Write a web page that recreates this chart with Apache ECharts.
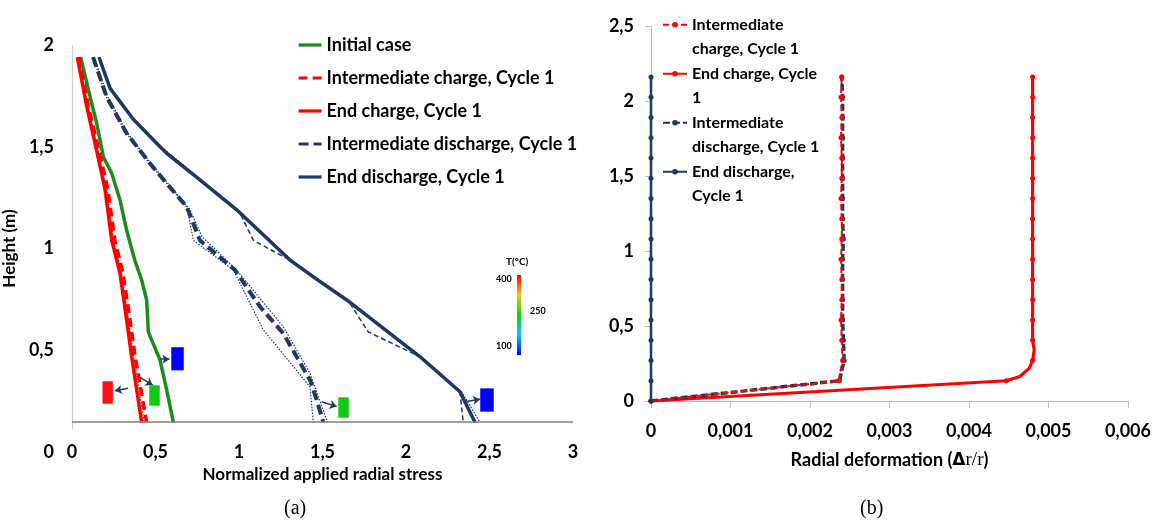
<!DOCTYPE html>
<html><head><meta charset="utf-8">
<script src="https://cdn.jsdelivr.net/npm/echarts@6/dist/echarts.min.js"></script>
<style>
html,body{margin:0;padding:0;background:#fff;}
#wrap{position:relative;width:1152px;height:523px;overflow:hidden;}
#a{position:absolute;left:0;top:0;width:600px;height:523px;}
#b{position:absolute;left:600px;top:0;width:552px;height:523px;}
</style></head><body>
<div id="wrap"><div id="a"></div><div id="b"></div></div>
<script>
// ================= DATA =================
// Panel (a): points are [normalized applied radial stress, height (m)]
const legendA = ['Initial case','Intermediate charge, Cycle 1','End charge, Cycle 1','Intermediate discharge, Cycle 1','End discharge, Cycle 1'];
const xTicksA = ['0','0,5','1','1,5','2','2,5','3'];
const yTicksA = ['0','0,5','1','1,5','2'];

const initialCase = [[0.052,1.94],[0.098,1.78],[0.148,1.615],[0.188,1.45],[0.238,1.37],[0.287,1.24],[0.327,1.09],[0.377,0.94],[0.417,0.845],[0.447,0.747],[0.457,0.59],[0.527,0.452],[0.567,0.305],[0.607,0.146]];
const interChargeA = [[0.040,1.94],[0.098,1.70],[0.162,1.48],[0.215,1.29],[0.257,1.04],[0.305,0.88],[0.337,0.71],[0.378,0.47],[0.447,0.146]];
const interChargeEnvA = [[0.036,1.94],[0.094,1.70],[0.156,1.48],[0.208,1.29],[0.249,1.04],[0.297,0.88],[0.328,0.71],[0.369,0.47],[0.432,0.146]];
const endChargeA = [[0.032,1.94],[0.088,1.70],[0.148,1.48],[0.198,1.29],[0.238,1.04],[0.287,0.88],[0.317,0.71],[0.357,0.47],[0.417,0.146]];
const interDischargeA = [[0.126,1.94],[0.207,1.746],[0.327,1.566],[0.467,1.418],[0.577,1.31],[0.687,1.205],[0.766,1.04],[0.976,0.894],[1.126,0.714],[1.265,0.583],[1.425,0.354],[1.465,0.256],[1.505,0.146]];
const interDischargeEnvLow = [[0.126,1.94],[0.205,1.746],[0.325,1.566],[0.465,1.418],[0.687,1.205],[0.727,1.04],[0.966,0.894],[1.146,0.60],[1.425,0.32],[1.445,0.146]];
const interDischargeEnvHigh = [[0.133,1.94],[0.214,1.746],[0.334,1.566],[0.474,1.418],[0.707,1.19],[0.777,1.06],[0.986,0.894],[1.265,0.616],[1.425,0.387],[1.53,0.146]];
const endDischargeA = [[0.162,1.94],[0.228,1.787],[0.367,1.635],[0.527,1.50],[0.567,1.468],[0.766,1.337],[0.986,1.19],[1.305,0.943],[1.485,0.837],[1.645,0.747],[2.084,0.468],[2.323,0.296],[2.413,0.146]];
const endDischargeDashA = [[0.162,1.94],[0.228,1.787],[0.367,1.635],[0.527,1.50],[0.766,1.337],[0.986,1.19],[1.006,1.173],[1.086,1.04],[1.305,0.943],[1.645,0.747],[1.665,0.73],[1.774,0.59],[2.084,0.468],[2.323,0.296],[2.343,0.146]];
const endDischargeDotA = [[0.166,1.94],[0.234,1.787],[0.373,1.635],[0.535,1.50],[0.775,1.337],[0.996,1.19],[1.315,0.943],[1.655,0.747],[2.094,0.468],[2.333,0.296],[2.443,0.146]];

// annotation boxes (temperature colour patches) and arrows, in data units
const baseHeight = 0.147;
const patchX = [[0.181,0.247],[0.461,0.527],[0.593,0.671],[1.593,1.659],[2.443,2.527]];
const patchY = [[0.236,0.349],[0.226,0.329],[0.400,0.516],[0.167,0.270],[0.197,0.314]];
const arrowFrom = [[0.336,0.313],[0.407,0.367],[0.527,0.456],[1.495,0.247],[2.353,0.247]];
const arrowTo = [[0.257,0.301],[0.483,0.329],[0.583,0.456],[1.585,0.223],[2.443,0.259]];
const colorbarLabels = ['T(°C)','400','250','100'];

// Panel (b): heights (m) and radial deformation (Δr/r)
const heightsB = [0,0.135,0.27,0.405,0.54,0.675,0.81,0.945,1.08,1.215,1.35,1.485,1.62,1.755,1.89,2.025,2.16];
const interChargeB = [0,0.00236,0.00241,0.0024,0.00239,0.0024,0.0024,0.00239,0.0024,0.0024,0.00239,0.0024,0.0024,0.00239,0.0024,0.00239,0.0024];
const endChargeB = [0,0.00447,0.0048,0.0048,0.0048,0.0048,0.0048,0.0048,0.0048,0.0048,0.0048,0.0048,0.0048,0.0048,0.0048,0.0048,0.0048];
const endChargeKneeH = [0.163,0.219,0.34];
const endChargeKneeX = [0.00464,0.00476,0.00482];
const interDischargeB = [0,0.00237,0.00243,0.00242,0.00241,0.00241,0.00241,0.00241,0.00242,0.00241,0.00241,0.00241,0.00241,0.00241,0.00241,0.00241,0.0024];
const endDischargeB = [0,0,0,0,0,0,0,0,0,0,0,0,0,0,0,0,0];
const xTicksB = ['0','0,001','0,002','0,003','0,004','0,005','0,006'];
const yTicksB = ['0','0,5','1','1,5','2','2,5'];
const legendB = {
  'Intermediate charge, Cycle 1':'Intermediate\ncharge, Cycle 1',
  'End charge, Cycle 1':'End charge, Cycle\n1',
  'Intermediate discharge, Cycle 1':'Intermediate\ndischarge, Cycle 1',
  'End discharge, Cycle 1':'End discharge,\nCycle 1'
};

// ================= STYLE =================
const GREEN = '#1e8a1e', RED = '#ff0000', NAVY = '#1f3864';
const BOLD = {fontFamily:'Lato', fontWeight:'bold', color:'#000'};

function lineS(name, data, color, width, type, extra) {
  return Object.assign({name, type:'line', data, symbol:'none', silent:true,
    lineStyle:{color, width, type: type || 'solid'}, itemStyle:{color}, z:3}, extra || {});
}

// ================= PANEL (a) =================
const chartA = echarts.init(document.getElementById('a'), null, {renderer:'canvas'});
const patchColors = ['#ff1010','#10cc10','#0000ff','#10cc10','#0000ff'];
const optA = {
  animation:false,
  textStyle:{fontFamily:'Lato'},
  grid:{left:72, right:27, top:45, bottom:71, outerBoundsMode:'none', containLabel:false},
  xAxis:{type:'value', min:0, max:3, interval:0.5,
    axisLine:{show:false}, axisTick:{show:false}, splitLine:{show:false},
    axisLabel:Object.assign({margin:0, verticalAlign:'middle', fontSize:18,
      formatter:(v)=>xTicksA[Math.round(v/0.5)]}, BOLD),
    name:'Normalized applied radial stress', nameLocation:'middle', nameGap:2,
    nameTextStyle:Object.assign({fontSize:17}, BOLD)},
  yAxis:{type:'value', min:0, max:2, interval:0.5,
    axisLine:{show:false}, axisTick:{show:false}, splitLine:{show:false},
    axisLabel:Object.assign({margin:18, fontSize:18,
      formatter:(v)=>yTicksA[Math.round(v/0.5)]}, BOLD),
    name:'Height (m)', nameLocation:'middle', nameGap:41,
    nameTextStyle:Object.assign({fontSize:17}, BOLD)},
  legend:{orient:'vertical', left:297, top:35, padding:0, itemWidth:23, itemHeight:14, itemGap:13,
    data:legendA, selectedMode:false, itemStyle:{opacity:0}, lineStyle:{width:3.2},
    textStyle:Object.assign({fontSize:18, lineHeight:20}, BOLD)},
  graphic:[
    {type:'rect', left:517, top:275, shape:{width:4, height:80},
     style:{fill:new echarts.graphic.LinearGradient(0,0,0,1,[
       {offset:0,color:'#ff0000'},{offset:0.25,color:'#ffc800'},{offset:0.5,color:'#00dd00'},
       {offset:0.75,color:'#00c8ff'},{offset:1,color:'#0000ff'}])}},
    {type:'text', left:506, top:257, style:{text:colorbarLabels[0], font:'bold 10px Lato', fill:'#000'}},
    {type:'text', left:496, top:275, style:{text:colorbarLabels[1], font:'bold 9px Lato', fill:'#000'}},
    {type:'text', left:530, top:307, style:{text:colorbarLabels[2], font:'bold 9px Lato', fill:'#000'}},
    {type:'text', left:496, top:342, style:{text:colorbarLabels[3], font:'bold 9px Lato', fill:'#000'}},
    {type:'text', left:284, top:499, style:{text:'(a)', font:'20px "Liberation Serif"', fill:'#000'}}
  ],
  series:[
    lineS('Initial case', initialCase, GREEN, 3.5),
    lineS('Intermediate charge, Cycle 1', interChargeA, RED, 3.5, [9,5]),
    lineS('End charge, Cycle 1', endChargeA, RED, 3.5),
    lineS('Intermediate discharge, Cycle 1', interDischargeA, NAVY, 4, [10,5]),
    lineS('End discharge, Cycle 1', endDischargeA, NAVY, 3.5),
    lineS('charge envelope', interChargeEnvA, RED, 1.2, [1.5,1.5]),
    lineS('discharge envelope low', interDischargeEnvLow, NAVY, 1.2, [1.5,1.5]),
    lineS('discharge envelope high', interDischargeEnvHigh, NAVY, 1.2, [1.5,1.5]),
    lineS('end discharge dashed', endDischargeDashA, NAVY, 1.5, [5,3]),
    lineS('end discharge dotted', endDischargeDotA, NAVY, 1.2, [1.5,1.5]),
    {name:'annotations', type:'line', data:[], silent:true, z:4,
      markArea:{silent:true, data: patchX.map((px,i)=>[
        {xAxis:px[0], yAxis:patchY[i][0], itemStyle:{color:patchColors[i], borderColor:'rgba(255,255,255,0.5)', borderWidth:1}},
        {xAxis:px[1], yAxis:patchY[i][1]}])},
      markLine:{silent:true, symbol:['none','none'], label:{show:false}, animation:false,
        data:[
          [{coord:[0,0.11], lineStyle:{color:'#d0d0d0', width:1.2, type:'solid'}},{coord:[0,2]}],
          [{coord:[0,baseHeight], lineStyle:{color:'#7f7f7f', width:1.5, type:'solid'}},{coord:[3,baseHeight]}],
          ...arrowFrom.map((f,i)=>[
            {coord:f, symbol:'none', lineStyle:{color:NAVY, width:1.5, type:'solid'}},
            {coord:arrowTo[i], symbol:'arrow', symbolSize:7}])
        ]}}
  ]
};
chartA.setOption(optA);

// ================= PANEL (b) =================
const chartB = echarts.init(document.getElementById('b'), null, {renderer:'canvas'});
function pairs(xs, hs){ return xs.map((x,i)=>[x, hs[i]]); }
const endChargePts = pairs(endChargeB, heightsB).concat(pairs(endChargeKneeX, endChargeKneeH)).sort((p,q)=>p[1]-q[1]);
const markerSize = (v)=> heightsB.indexOf(v[1]) >= 0 ? 5 : 0;
const optB = {
  animation:false,
  textStyle:{fontFamily:'Lato'},
  grid:{left:51, right:24, top:26, bottom:122, outerBoundsMode:'none', containLabel:false},
  xAxis:{type:'value', min:0, max:0.006, interval:0.001,
    axisLine:{show:true, lineStyle:{color:'#bfbfbf', width:1}},
    axisTick:{show:true, length:7, lineStyle:{color:'#bfbfbf'}}, splitLine:{show:false},
    axisLabel:Object.assign({margin:21, fontSize:18, formatter:(v)=>xTicksB[Math.round(v/0.001)]}, BOLD),
    name:'{t|Radial deformation (}{d|Δ}{s|r/r}{t|)}', nameLocation:'middle', nameGap:50,
    nameTextStyle:{rich:{
      t:{fontFamily:'Lato', fontWeight:'bold', fontSize:18, color:'#000'},
      d:{fontFamily:'DejaVu Sans', fontWeight:'bold', fontSize:17, color:'#000'},
      s:{fontFamily:'Liberation Serif', fontSize:19, color:'#000'}}}},
  yAxis:{type:'value', min:0, max:2.5, interval:0.5,
    axisLine:{show:true, lineStyle:{color:'#bfbfbf', width:1}},
    axisTick:{show:true, length:6, lineStyle:{color:'#bfbfbf'}}, splitLine:{show:false},
    axisLabel:Object.assign({margin:17, fontSize:18, formatter:(v)=>yTicksB[Math.round(v/0.5)]}, BOLD),
    name:'Height (m)', nameLocation:'middle', nameGap:45,
    nameTextStyle:Object.assign({fontSize:17}, BOLD)},
  legend:{orient:'vertical', left:62, top:-12, padding:0, itemWidth:24, itemHeight:7, itemGap:-24.5,
    selectedMode:false, data:Object.keys(legendB),
    formatter:(n)=>'\n'+legendB[n],
    textStyle:{fontFamily:'Lato', fontWeight:'bold', fontSize:16, lineHeight:24.5, color:'#000'}},
  graphic:[{type:'text', left:260, top:499, style:{text:'(b)', font:'20px "Liberation Serif"', fill:'#000'}}],
  series:[
    {name:'Intermediate charge, Cycle 1', type:'line', data:pairs(interChargeB, heightsB), symbol:'circle', symbolSize:markerSize,
      lineStyle:{color:RED, width:2, type:[6,3]}, itemStyle:{color:RED}, z:4},
    {name:'End charge, Cycle 1', type:'line', data:endChargePts, symbol:'circle', symbolSize:markerSize,
      lineStyle:{color:RED, width:3.2}, itemStyle:{color:RED}, z:3},
    {name:'Intermediate discharge, Cycle 1', type:'line', data:pairs(interDischargeB, heightsB), symbol:'circle', symbolSize:markerSize,
      lineStyle:{color:NAVY, width:3.5, type:[7,3]}, itemStyle:{color:NAVY}, z:3},
    {name:'End discharge, Cycle 1', type:'line', data:pairs(endDischargeB, heightsB), symbol:'circle', symbolSize:markerSize,
      lineStyle:{color:NAVY, width:2.5}, itemStyle:{color:NAVY}, z:5}
  ]
};
chartB.setOption(optB);
</script>
</body></html>
